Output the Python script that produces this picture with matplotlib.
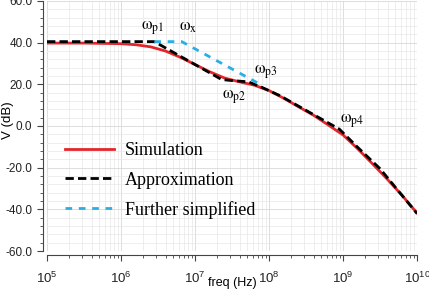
import numpy as np
import matplotlib
matplotlib.use("Agg")
import matplotlib.pyplot as plt
from matplotlib.ticker import FixedLocator, FuncFormatter, LogLocator, NullFormatter

# log10(freq) / dB
sim_logf = [5.0, 5.5, 6.0, 6.2, 6.4, 6.6, 6.8, 7.0, 7.2, 7.4, 7.6, 7.8, 8.0,
            8.2, 8.4, 8.6, 8.8, 9.0, 9.2, 9.4, 9.6, 9.8, 10.0]
sim_db = [39.8, 39.8, 39.5, 39.0, 38.0, 36.0, 33.0, 29.5, 26.0, 23.0, 21.2,
          19.6, 17.0, 13.3, 9.2, 5.2, 0.5, -4.3, -11.0, -18.2, -25.6, -33.4, -41.8]

approx_logf = [5.0, 6.45, 6.6, 6.8, 7.0, 7.2, 7.36, 7.5, 7.72, 7.9, 8.15, 8.59,
               8.95, 9.2, 9.5, 10.0]
approx_db = [40.5, 40.5, 37.5, 33.5, 29.5, 25.5, 22.3, 21.8, 21.2, 18.6, 14.5,
             5.7, -1.5, -10.3, -20.5, -42.0]

simp_logf = [6.45, 6.82, 7.84]
simp_db = [40.5, 40.5, 20.8]

pole_labels = [r'$\mathrm{\omega}_{\mathrm{p1}}$', r'$\mathrm{\omega}_{\mathrm{x}}$',
               r'$\mathrm{\omega}_{\mathrm{p3}}$', r'$\mathrm{\omega}_{\mathrm{p2}}$',
               r'$\mathrm{\omega}_{\mathrm{p4}}$']
pole_logf = [6.42, 6.9, 7.96, 7.53, 9.12]
pole_db = [47, 48, 26, 14, 2.5]

fig = plt.figure(figsize=(4.29, 2.92), dpi=100)
ax = fig.add_axes([0.1096, 0.1404, 0.8625, 0.8562])

ax.plot(10 ** np.array(sim_logf), sim_db, color='#e3262b', lw=2.0, label='Simulation')
ax.plot(10 ** np.array(approx_logf), approx_db, color='black', lw=2.0,
        dashes=(3, 1.5), label='Approximation')
ax.plot(10 ** np.array(simp_logf), simp_db, color='#2aaee4', lw=2.0,
        dashes=(2.4, 2.4), label='Further simplified')

for lab, lf, db in zip(pole_labels, pole_logf, pole_db):
    ax.text(10 ** lf, db, lab, fontsize=12, math_fontfamily='stix',
            ha='center', va='center')

ax.set_xscale('log')
ax.set_xlim(1e5, 1e10)
ax.set_ylim(-60, 60)

ax.yaxis.set_major_locator(FixedLocator([-60, -40, -20, 0, 20, 40, 60]))
ax.yaxis.set_minor_locator(FixedLocator(np.arange(-60, 61, 4)))
ax.yaxis.set_major_formatter(FuncFormatter(lambda v, p: '%.1f' % v))
ax.xaxis.set_major_locator(LogLocator(base=10, numticks=10))
ax.xaxis.set_minor_locator(LogLocator(base=10, subs=np.arange(2, 10), numticks=20))
ax.xaxis.set_minor_formatter(NullFormatter())
ax.xaxis.set_major_formatter(FuncFormatter(lambda v, p: r'$\mathregular{10^{%d}}$' % round(np.log10(v))))

for side in ['top', 'right']:
    ax.spines[side].set_visible(False)
ax.spines['left'].set_position(('outward', 3))
ax.spines['bottom'].set_position(('outward', 3))
ax.spines['left'].set_color('#444444')
ax.spines['bottom'].set_color('#444444')

ax.tick_params(which='both', direction='out', colors='#444444', labelcolor='#222222')
ax.tick_params(axis='y', labelsize=8.5)
ax.tick_params(axis='x', labelsize=9.5, pad=7)
ax.tick_params(which='major', length=4)
ax.tick_params(which='minor', length=2.5)
for lab in ax.get_xticklabels() + ax.get_yticklabels():
    lab.set_family('Liberation Sans')

ax.grid(True, which='major', color='#d8d8d8', lw=0.6)
ax.grid(True, which='minor', color='#e8e8e8', lw=0.5)
ax.set_axisbelow(True)

fig.text(232 / 429, 1 - 283 / 292, 'freq (Hz)', fontsize=9, family='Liberation Sans',
         ha='center', va='center')
fig.text(8 / 429, 1 - 120 / 292, 'V (dB)', fontsize=9.5, family='Liberation Sans',
         ha='center', va='center', rotation=90)

ax.legend(loc='upper left', bbox_to_anchor=(0.005, 0.5), frameon=False,
          prop={'family': 'Liberation Serif', 'size': 13}, handlelength=2.7,
          handletextpad=0.6, labelspacing=0.68)

fig.savefig('out.png', dpi=100)
